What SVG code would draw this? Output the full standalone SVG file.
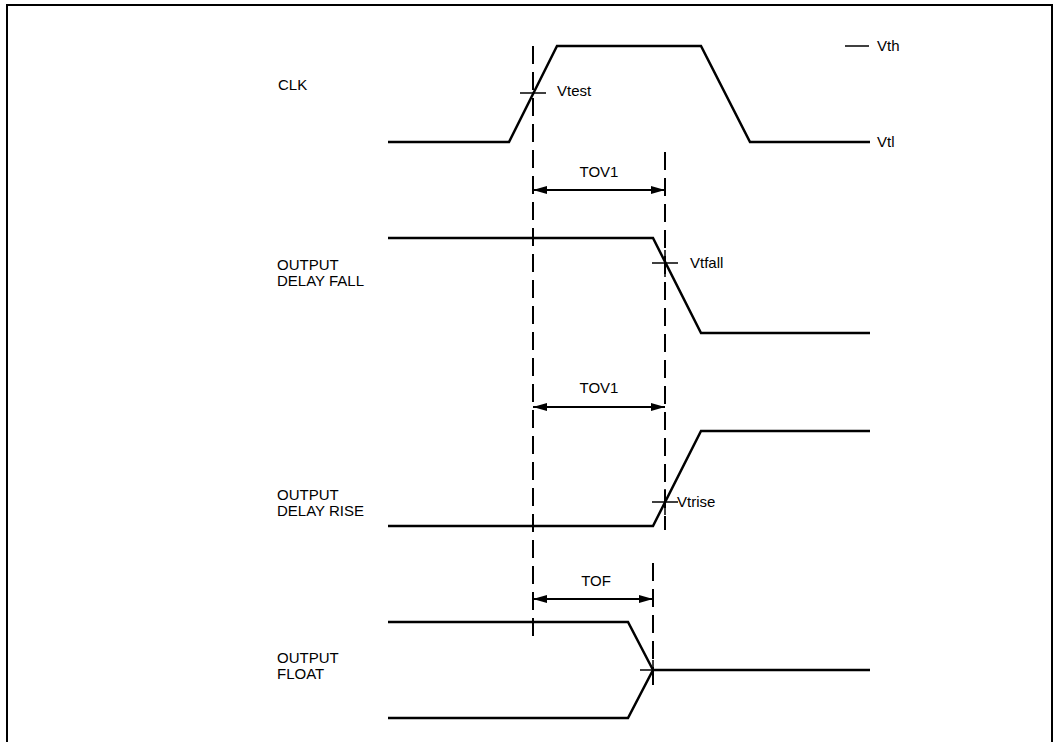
<svg xmlns="http://www.w3.org/2000/svg" width="1054" height="742" viewBox="0 0 1054 742">
<style>
.sig{fill:none;stroke:#000;stroke-width:2.5;stroke-linejoin:miter}
.dash{fill:none;stroke:#000;stroke-width:2;stroke-dasharray:18,8}
.thin{fill:none;stroke:#000;stroke-width:1.5}
.dim{fill:none;stroke:#000;stroke-width:2}
text{font-family:"Liberation Sans",Arial,sans-serif;font-size:15px;fill:#000}
</style>
<defs>
<marker id="ah" viewBox="0 0 14 8" refX="14" refY="4" markerWidth="14" markerHeight="8" markerUnits="userSpaceOnUse" orient="auto-start-reverse">
<path d="M0,0 L14,4 L0,8 Z" fill="#000"/>
</marker>
</defs>
<rect width="1054" height="742" fill="#fff"/>
<path d="M7,742 V5 H1052 V742" fill="none" stroke="#000" stroke-width="2"/>

<g id="clk">
<text x="278" y="90">CLK</text>
<path class="sig" d="M388,142 H509 L557,46 H701 L750,142 H870"/>
<path class="thin" d="M845,46 H869"/>
<text x="877" y="51">Vth</text>
<text x="877" y="147">Vtl</text>
<path class="thin" d="M520,93 H546"/>
<text x="557" y="96">Vtest</text>
</g>

<g id="delay-fall">
<text x="277" y="270">OUTPUT</text>
<text x="277" y="286">DELAY FALL</text>
<path class="sig" d="M388,238 H653 L701,333 H870"/>
<path class="thin" d="M652,263 H678 M665,250 V277"/>
<text x="690" y="268">Vtfall</text>
</g>

<g id="delay-rise">
<text x="277" y="500">OUTPUT</text>
<text x="277" y="516">DELAY RISE</text>
<path class="sig" d="M388,526 H653 L701,431 H870"/>
<path class="thin" d="M652,502 H678 M665,489 V515"/>
<text x="677" y="507">Vtrise</text>
</g>

<g id="float">
<text x="277" y="663">OUTPUT</text>
<text x="277" y="679">FLOAT</text>
<path class="sig" d="M388,622 H628 L653,670 M388,718 H628 L653,670 H870"/>
<path class="thin" d="M640,670 H653 M653,660 V684"/>
</g>

<g id="connectors">
<path class="dash" d="M533,46 V644"/>
<path class="dash" d="M665,152 V530"/>
<path class="dash" d="M653,563 V686"/>
<path class="dim" d="M533,190 H665" marker-start="url(#ah)" marker-end="url(#ah)"/>
<text x="599" y="177" text-anchor="middle">TOV1</text>
<path class="dim" d="M533,407 H665" marker-start="url(#ah)" marker-end="url(#ah)"/>
<text x="599" y="393" text-anchor="middle">TOV1</text>
<path class="dim" d="M533,599 H653" marker-start="url(#ah)" marker-end="url(#ah)"/>
<text x="596" y="586" text-anchor="middle">TOF</text>
</g>
</svg>
